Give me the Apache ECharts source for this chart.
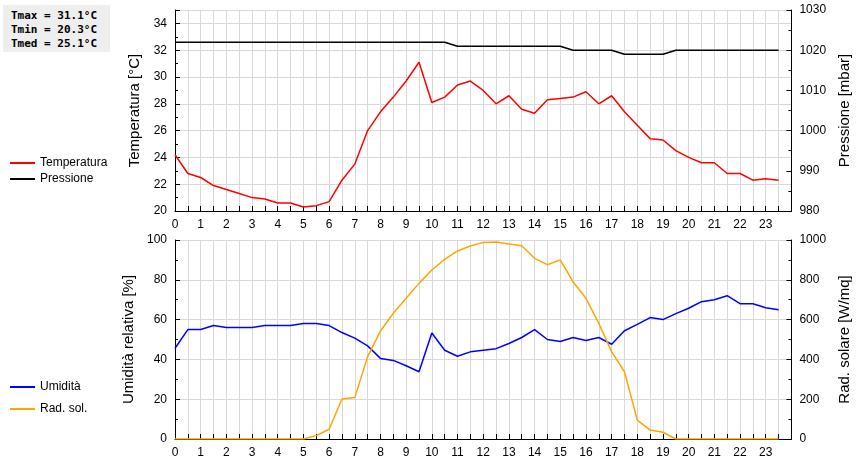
<!DOCTYPE html>
<html><head><meta charset="utf-8">
<script src="https://cdn.jsdelivr.net/npm/echarts@6/dist/echarts.min.js"></script>
<style>body{margin:0}#c{width:860px;height:460px}
#s{position:absolute;left:3px;top:5px;width:107px;height:47px;background:#eee;font:bold 11px "DejaVu Sans Mono",monospace;line-height:14px;padding:4px 0 0 8px;box-sizing:border-box}</style>
</head><body><div id="c"></div><div id="s">Tmax = 31.1°C<br>Tmin = 20.3°C<br>Tmed = 25.1°C</div>
<script>
const hours=[];for(let i=0;i<48;i++)hours.push(i/2);
const temperatura=[24.2,22.8,22.5,21.9,21.6,21.3,21.0,20.9,20.6,20.6,20.3,20.4,20.7,22.3,23.5,26.0,27.4,28.5,29.7,31.1,28.1,28.5,29.4,29.7,29.0,28.0,28.6,27.6,27.3,28.3,28.4,28.5,28.9,28.0,28.6,27.4,26.4,25.4,25.3,24.5,24.0,23.6,23.6,22.8,22.8,22.3,22.4,22.3];
const pressione=[1022,1022,1022,1022,1022,1022,1022,1022,1022,1022,1022,1022,1022,1022,1022,1022,1022,1022,1022,1022,1022,1022,1021,1021,1021,1021,1021,1021,1021,1021,1021,1020,1020,1020,1020,1019,1019,1019,1019,1020,1020,1020,1020,1020,1020,1020,1020,1020];
const umidita=[45.6,55,55,57,56,56,56,57,57,57,58,58,57,53.5,50.7,46.8,40.5,39.5,36.8,33.8,53.3,44.6,41.6,43.8,44.6,45.4,48,51,55,50,49,51,49.5,51,47.6,54.4,57.6,61,60,63,65.7,69,70,72,68,68,66,65];
const radiazione=[0,0,0,0,0,0,0,0,0,0,0,17,49,201,208,414,543,632,707,782,849,903,945,970,988,990,980,971,908,876,900,790,707,581,439,338,95,45,34,0,0,0,0,0,0,0,0,0];
const pair=a=>a.map((v,i)=>[hours[i],v]);
const F='Liberation Sans, Arial, sans-serif';
const xAx=gi=>({type:'value',gridIndex:gi,min:0,max:24,interval:0.5,
 axisLine:{onZero:false,lineStyle:{color:'#000'}},axisTick:{inside:true,length:5,lineStyle:{color:'#000'}},
 axisLabel:{color:'#000',fontSize:12,fontFamily:F,formatter:v=>(v%1===0&&v<24)?String(v):''},
 splitLine:{show:true,lineStyle:{color:'#d8d8d8'}}});
const yAx=(gi,min,max,iv,name,pos,grid)=>({type:'value',gridIndex:gi,min,max,interval:iv,position:pos,name,nameLocation:'middle',nameGap:pos==='left'?29:41,
 nameTextStyle:{color:'#000',fontSize:15,fontFamily:F},
 axisLine:{show:true,lineStyle:{color:'#000'}},axisTick:{show:true,inside:true,length:5,lineStyle:{color:'#000'}},
 minorTick:{show:true,splitNumber:2,length:3,lineStyle:{color:'#000'}},
 axisLabel:{color:'#000',fontSize:12,fontFamily:F,formatter:v=>(v===35?'':String(v))},
 splitLine:{show:grid,lineStyle:{color:'#d8d8d8'}}});
const ln=(name,data,color,x,y)=>({name,type:'line',data,xAxisIndex:x,yAxisIndex:y,symbol:'none',lineStyle:{color,width:1.5},itemStyle:{color},animation:false});
const chart=echarts.init(document.getElementById('c'));
chart.setOption({
 animation:false,
 grid:[{left:175,right:63,top:10,height:201},{left:175,right:63,top:240,height:199}],
 legend:[{data:['Temperatura','Pressione'],orient:'vertical',left:5,top:152,itemWidth:25,itemHeight:2,itemGap:4,icon:'rect',textStyle:{fontSize:12,fontFamily:F,color:'#000'}},
 {data:['Umidità','Rad. sol.'],orient:'vertical',left:5,top:376,itemWidth:25,itemHeight:2,itemGap:10,icon:'rect',textStyle:{fontSize:12,fontFamily:F,color:'#000'}}],
 xAxis:[xAx(0),xAx(1)],
 yAxis:[yAx(0,20,35,2,'Temperatura [°C]','left',true),yAx(0,980,1030,10,'Pressione [mbar]','right',false),
  yAx(1,0,100,20,'Umidità relativa [%]','left',true),yAx(1,0,1000,200,'Rad. solare [W/mq]','right',false)],
 series:[ln('Temperatura',pair(temperatura),'#ff0000',0,0),ln('Pressione',pair(pressione),'#000000',0,1),
  ln('Umidità',pair(umidita),'#0000ff',1,2),ln('Rad. sol.',pair(radiazione),'#ffa500',1,3)]
});
</script></body></html>
